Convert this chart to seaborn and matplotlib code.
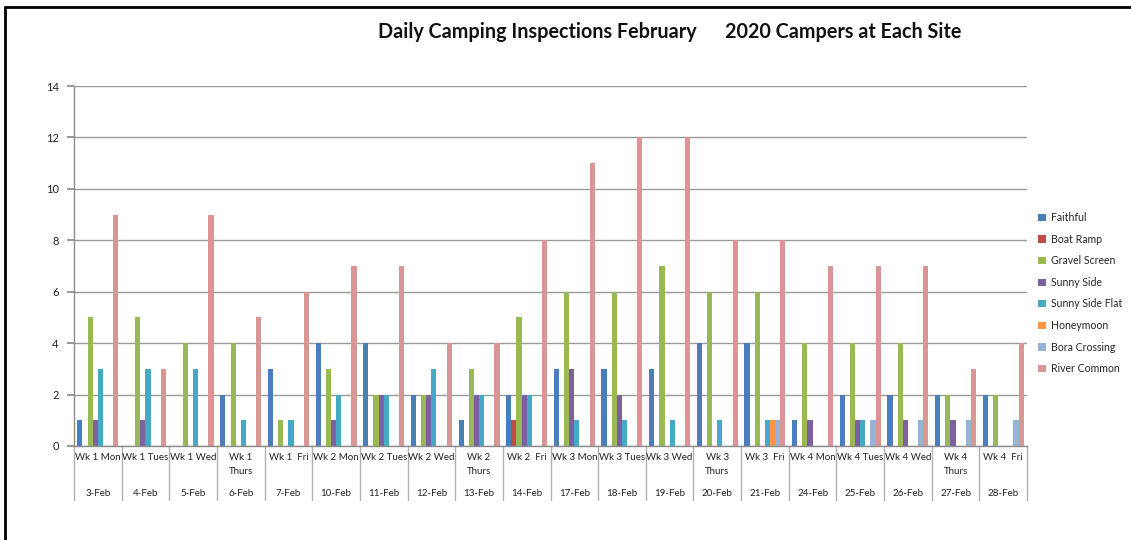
import matplotlib
matplotlib.use("Agg")
import matplotlib.pyplot as plt
import matplotlib.transforms as mtransforms
from matplotlib.lines import Line2D
import seaborn as sns
import pandas as pd

dates = ["3-Feb", "4-Feb", "5-Feb", "6-Feb", "7-Feb", "10-Feb", "11-Feb", "12-Feb",
         "13-Feb", "14-Feb", "17-Feb", "18-Feb", "19-Feb", "20-Feb", "21-Feb",
         "24-Feb", "25-Feb", "26-Feb", "27-Feb", "28-Feb"]
days = ["Wk 1 Mon", "Wk 1 Tues", "Wk 1 Wed", "Wk 1\nThurs", "Wk 1  Fri",
        "Wk 2 Mon", "Wk 2 Tues", "Wk 2 Wed", "Wk 2\nThurs", "Wk 2  Fri",
        "Wk 3 Mon", "Wk 3 Tues", "Wk 3 Wed", "Wk 3\nThurs", "Wk 3  Fri",
        "Wk 4 Mon", "Wk 4 Tues", "Wk 4 Wed", "Wk 4\nThurs", "Wk 4  Fri"]

faithful        = [1, 0, 0, 2, 3, 4, 4, 2, 1, 2, 3, 3, 3, 4, 4, 1, 2, 2, 2, 2]
boat_ramp       = [0, 0, 0, 0, 0, 0, 0, 0, 0, 1, 0, 0, 0, 0, 0, 0, 0, 0, 0, 0]
gravel_screen   = [5, 5, 4, 4, 1, 3, 2, 2, 3, 5, 6, 6, 7, 6, 6, 4, 4, 4, 2, 2]
sunny_side      = [1, 1, 0, 0, 0, 1, 2, 2, 2, 2, 3, 2, 0, 0, 0, 1, 1, 1, 1, 0]
sunny_side_flat = [3, 3, 3, 1, 1, 2, 2, 3, 2, 2, 1, 1, 1, 1, 1, 0, 1, 0, 0, 0]
honeymoon       = [0, 0, 0, 0, 0, 0, 0, 0, 0, 0, 0, 0, 0, 0, 1, 0, 0, 0, 0, 0]
bora_crossing   = [0, 0, 0, 0, 0, 0, 0, 0, 0, 0, 0, 0, 0, 0, 1, 0, 1, 1, 1, 1]
river_common    = [9, 3, 9, 5, 6, 7, 7, 4, 4, 8, 11, 12, 12, 8, 8, 7, 7, 7, 3, 4]

series_names = ["Faithful", "Boat Ramp", "Gravel Screen", "Sunny Side",
                "Sunny Side Flat", "Honeymoon", "Bora Crossing", "River Common"]
series_values = [faithful, boat_ramp, gravel_screen, sunny_side,
                 sunny_side_flat, honeymoon, bora_crossing, river_common]
colors = ["#4A7EBB", "#BE4B48", "#98B954", "#7D60A0", "#46AAC5",
          "#F79646", "#95B3D7", "#D99694"]

rows = []
for name, vals in zip(series_names, series_values):
    for d, v in zip(dates, vals):
        rows.append({"date": d, "site": name, "campers": v})
df = pd.DataFrame(rows)

sns.set_theme(style="white")
plt.rcParams["font.family"] = ["Lato", "DejaVu Sans"]

fig = plt.figure(figsize=(11.31, 5.40), dpi=100)
W, H = 1131, 540
ax = fig.add_axes([74 / W, 1 - 446 / H, (1027 - 74) / W, (446 - 86) / H])

sns.barplot(data=df, x="date", y="campers", hue="site", order=dates,
            hue_order=series_names, palette=colors, width=0.86,
            saturation=1, ax=ax, legend=True, linewidth=0)

ax.set_ylim(0, 14)
ax.set_xlim(-0.5, len(dates) - 0.5)
ax.set_yticks(range(0, 15, 2))
ax.yaxis.grid(True, color="#9a9a9a", linewidth=1)
ax.set_axisbelow(True)
ax.set_xlabel("")
ax.set_ylabel("")
ax.set_xticks([])
for s in ["top", "right"]:
    ax.spines[s].set_visible(False)
for s in ["left", "bottom"]:
    ax.spines[s].set_color("#8c8c8c")
    ax.spines[s].set_linewidth(1)
ax.tick_params(axis="y", left=True, length=5, color="#8c8c8c", pad=6,
               labelsize=8, labelcolor="#222222")

# two-level category labels
trans = mtransforms.blended_transform_factory(ax.transData, fig.transFigure)
for i, (d, lab) in enumerate(zip(dates, days)):
    ax.text(i, 1 - 453 / H, lab, transform=trans, ha="center", va="top",
            fontsize=7.0, color="#222222", linespacing=1.7)
    ax.text(i, 1 - 493 / H, d, transform=trans, ha="center", va="center",
            fontsize=7.0, color="#222222")
for i in range(len(dates) + 1):
    ax.add_line(Line2D([i - 0.5, i - 0.5], [1 - 446 / H, 1 - 500 / H],
                       transform=trans, color="#b0b0b0", linewidth=1,
                       clip_on=False))

# legend
handles, labels = ax.get_legend_handles_labels()
ax.legend_.remove()
fig.legend(handles, labels, loc="upper left",
           bbox_to_anchor=(1034 / W, 1 - 208 / H), frameon=False,
           fontsize=7.6, handlelength=0.7, handleheight=0.7,
           handletextpad=0.5, labelspacing=1.0, borderaxespad=0)

fig.text(670 / W, 1 - 32 / H,
         "Daily Camping Inspections February      2020 Campers at Each Site",
         ha="center", va="center", fontsize=14.2, fontweight="bold",
         color="#111111")

# chart border
fig.add_artist(Line2D([5 / W, 1.0], [1 - 7 / H, 1 - 7 / H],
                      transform=fig.transFigure, color="black", linewidth=2))
fig.add_artist(Line2D([5 / W, 5 / W], [1 - 7 / H, 0.0],
                      transform=fig.transFigure, color="black", linewidth=2))

fig.savefig("out.png", dpi=100)
